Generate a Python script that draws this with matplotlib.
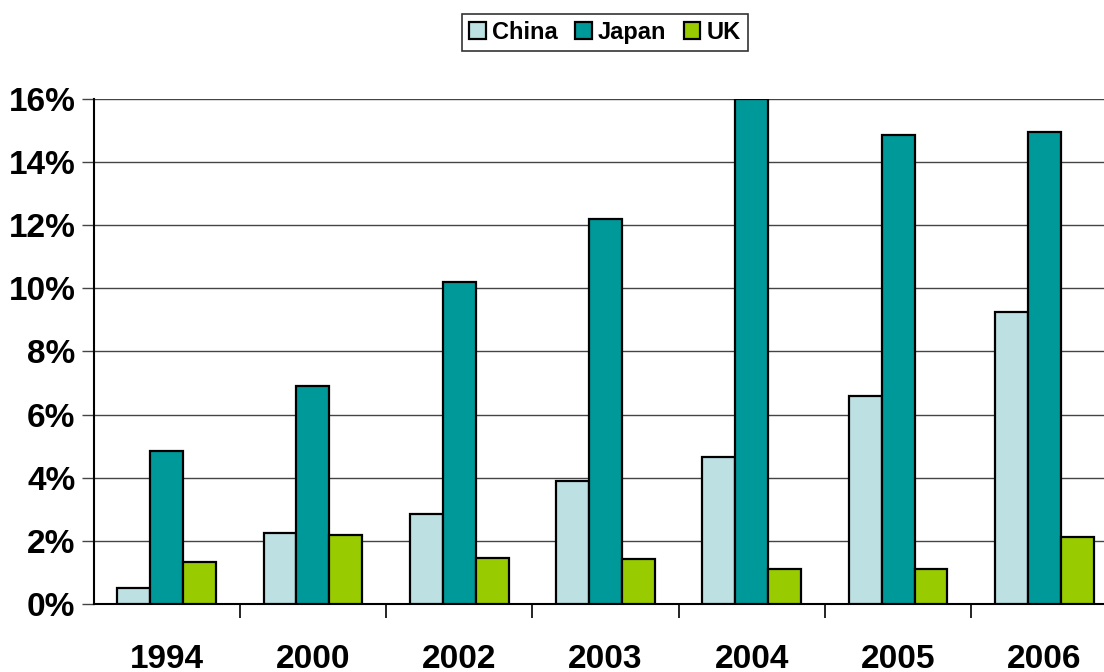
import matplotlib
matplotlib.use("Agg")
import matplotlib.pyplot as plt
import numpy as np
from matplotlib.ticker import FixedLocator, PercentFormatter

years = ["1994", "2000", "2002", "2003", "2004", "2005", "2006"]
china = [0.5, 2.25, 2.85, 3.9, 4.65, 6.6, 9.25]
japan = [4.85, 6.9, 10.2, 12.2, 16.0, 14.85, 14.95]
uk = [1.33, 2.19, 1.46, 1.43, 1.11, 1.11, 2.12]
series = [("China", china, "#BDE0E3"), ("Japan", japan, "#009999"), ("UK", uk, "#99CC00")]

plt.rcParams['font.family'] = ['Liberation Sans', 'DejaVu Sans']
fig = plt.figure(figsize=(11.04, 6.72), dpi=100)
ax = fig.add_axes([0.0847, 0.1012, 0.9275, 0.7515])

x = np.arange(len(years))
w = 0.225
for i, (name, vals, col) in enumerate(series):
    ax.bar(x + (i - 1) * w, vals, w, color=col, edgecolor="black", linewidth=1.6,
           label=name, zorder=3)

ax.set_xlim(-0.5, len(years) - 0.5)
ax.set_ylim(0, 16)
ax.set_yticks(np.arange(0, 17, 2))
ax.yaxis.set_major_formatter(PercentFormatter(decimals=0))
ax.yaxis.grid(True, color="#444444", linewidth=1.0, zorder=0)
ax.set_xticks(x)
ax.set_xticklabels(years)
ax.xaxis.set_minor_locator(FixedLocator(np.arange(0.5, len(years) - 1, 1)))
ax.tick_params(axis="x", which="major", length=0, pad=29, labelsize=24)
ax.tick_params(axis="x", which="minor", length=10, width=1.2, color="black", direction="out")
ax.tick_params(axis="y", length=9, width=1.0, color="#444444", pad=4, labelsize=24)
for lab in ax.get_xticklabels() + ax.get_yticklabels():
    lab.set_fontweight("bold")
for s in ["top", "right"]:
    ax.spines[s].set_visible(False)
ax.spines["left"].set_linewidth(1.5)
ax.spines["bottom"].set_linewidth(1.5)

leg = fig.legend(loc="center", bbox_to_anchor=(0.548, 0.952), ncol=3,
                 prop={"weight": "bold", "size": 17}, frameon=True, fancybox=False,
                 edgecolor="black", handlelength=0.7, handleheight=0.7,
                 handletextpad=0.25, columnspacing=0.75, borderpad=0.3, borderaxespad=0)
leg.get_frame().set_linewidth(1.2)

fig.savefig("out.png", dpi=100)
